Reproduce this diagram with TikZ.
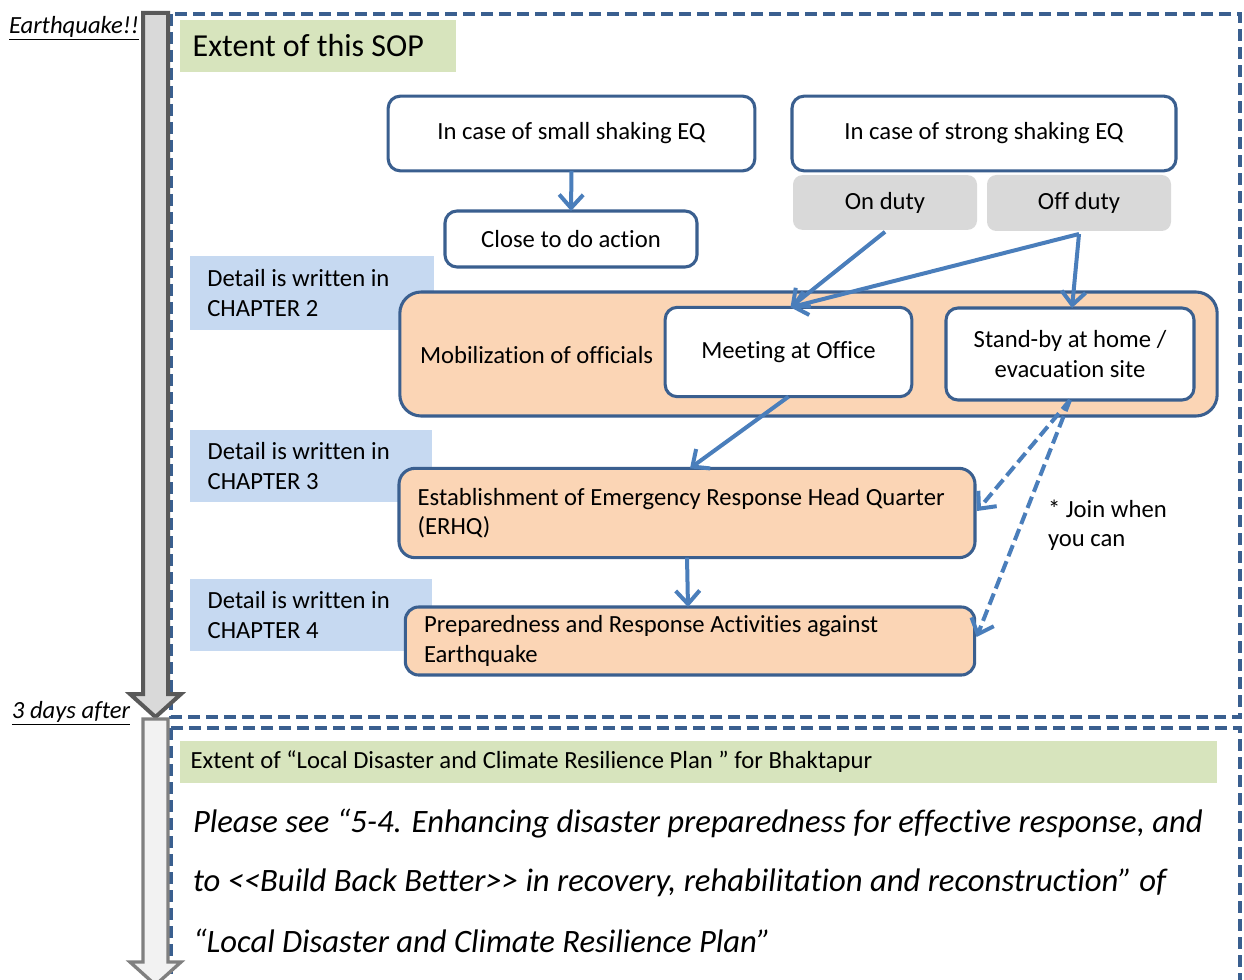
\documentclass[tikz,border=0pt]{standalone}
\usepackage{fontspec}
\setmainfont{Carlito}[Ligatures={TeX,NoCommon}]
\usetikzlibrary{arrows.meta,calc}
\definecolor{frameblue}{RGB}{58,95,143}
\definecolor{arrowblue}{RGB}{74,126,187}
\definecolor{sopgreen}{RGB}{215,228,189}
\definecolor{chblue}{RGB}{198,217,241}
\definecolor{peach}{RGB}{251,213,181}
\definecolor{dutygray}{RGB}{217,217,217}
\definecolor{darkarrow}{RGB}{89,89,89}
\definecolor{lightarrow}{RGB}{128,128,128}
\definecolor{palegray}{RGB}{242,242,242}
\tikzset{
  base/.style={font=\fontsize{18.5}{22}\selectfont, inner sep=0pt, outer sep=0pt},
  whitebox/.style={base, draw=frameblue, line width=2.3pt, fill=white, rounded corners=9pt},
  peachbox/.style={base, draw=frameblue, line width=2.3pt, fill=peach, rounded corners=16pt},
  dutybox/.style={base, fill=dutygray, rounded corners=7pt},
  chbox/.style={base, fill=chblue, align=flush left, text width=160pt, inner xsep=13pt},
  flow/.style={draw=arrowblue, line width=3pt, -{Straight Barb[length=10pt,width=18pt,line width=3pt]}},
  dflow/.style={flow, dash pattern=on 9pt off 4pt},
  dframe/.style={draw=frameblue, line width=2.3pt, dash pattern=on 9pt off 4.5pt},
}
\begin{document}
\begin{tikzpicture}[x=0.75pt,y=-0.75pt]
\useasboundingbox (0,0) rectangle (1244,980);
\fill[white] (0,0) rectangle (1244,980);
% frames
\draw[dframe] (171,14) rectangle (1240,717);
\draw[dframe] (171,728) -- (1240,728) -- (1240,985);
\draw[dframe] (171,728) -- (171,985);
% timeline arrows
\draw[darkarrow, line width=3pt, fill=dutygray, line join=miter]
  (143,13) -- (168,13) -- (168,694) -- (181,694) -- (155.5,717) -- (130,694) -- (143,694) -- cycle;
\draw[lightarrow, line width=2.5pt, fill=palegray, line join=miter]
  (143,719) -- (168,719) -- (168,962) -- (181,962) -- (155.5,985) -- (130,962) -- (143,962) -- cycle;
\node[base, font=\fontsize{18.5}{22}\selectfont\itshape, anchor=center] (eq) at (74,28) {\underline{Earthquake!!}};
\node[base, font=\fontsize{18.5}{22}\selectfont\itshape, anchor=center] (days) at (71,713) {\underline{3 days after}};
% SOP title
\node[base, fill=sopgreen, minimum width=207pt, minimum height=39pt, anchor=west, font=\fontsize{24}{28}\selectfont, align=flush left, text width=188pt, inner xsep=9.5pt] (sop) at (180,46) {Extent of this SOP};
% top boxes
\node[whitebox, minimum width=275pt, minimum height=56pt] (small) at (571.5,133.5) {In case of small shaking EQ};
\node[whitebox, minimum width=288pt, minimum height=56pt] (strong) at (984,133.5) {In case of strong shaking EQ};
\node[dutybox, minimum width=138pt, minimum height=41pt] (onduty) at (885,202.5) {On duty};
\node[dutybox, minimum width=138pt, minimum height=42pt] (offduty) at (1079,203) {Off duty};
\node[whitebox, minimum width=189pt, minimum height=42pt] (close) at (571,239) {Close to do action};
% chapter notes
\node[chbox, minimum height=55pt, text width=157pt] (ch2) at (312,293) {Detail is written in\\CHAPTER 2};
\node[chbox, minimum height=54pt, text width=155pt] (ch3) at (311,466) {Detail is written in\\CHAPTER 3};
\node[chbox, minimum height=54pt, text width=155pt] (ch4) at (311,615) {Detail is written in\\CHAPTER 4};
% mobilization
\node[peachbox, minimum width=613pt, minimum height=93pt] (mob) at (808.5,354) {};
\node[base, anchor=west] (mobtxt) at (420,355) {Mobilization of officials};
\node[whitebox, minimum width=185pt, minimum height=67pt] (meet) at (788.5,352) {Meeting at Office};
\node[whitebox, minimum width=186pt, minimum height=69pt, align=center] (standby) at (1070,354) {Stand-by at home /\\evacuation site};
% ERHQ and preparedness
\node[peachbox, minimum width=432pt, minimum height=67pt, align=flush left, text width=404pt, inner xsep=14pt, rounded corners=12pt] (erhq) at (687,513) {Establishment of Emergency Response Head Quarter\\(ERHQ)};
\node[peachbox, minimum width=427pt, minimum height=51pt, align=flush left, text width=399pt, inner xsep=14pt, rounded corners=10pt] (prep) at (690,641) {Preparedness and Response Activities against\\Earthquake};
\node[base, anchor=north west, align=left] (join) at (1048,500) {* Join when\\you can};
% connectors
\draw[flow] (small.south) -- (close.north);
\draw[flow] ($(onduty.south)+(0,2)$) -- ($(meet.north)+(2,0)$);
\draw[flow] ($(offduty.south)+(0,3)$) -- ($(meet.north)+(2,0)$);
\draw[flow] ($(offduty.south)+(0,3)$) -- ($(standby.north)+(2,0)$);
\draw[flow] (meet.south) -- ($(erhq.north)+(3,0)$);
\draw[flow] (erhq.south) -- ($(prep.north)+(-2,0)$);
\draw[dflow] (standby.south) -- ($(erhq.east)+(2,-2)$);
\draw[dflow] (standby.south) -- ($(prep.east)+(2,-4)$);
% lower section
\node[base, fill=sopgreen, minimum width=778pt, minimum height=32pt, anchor=west, align=flush left, text width=762pt, inner xsep=8pt] (ldcrp) at (180,762) {Extent of “Local Disaster and Climate Resilience Plan ” for Bhaktapur};
\node[base, anchor=west, font=\fontsize{24.5}{29}\selectfont\itshape] (l1) at (193,824) {Please see “5-4. Enhancing disaster preparedness for effective response, and};
\node[base, anchor=west, font=\fontsize{24.5}{29}\selectfont\itshape] (l2) at (193,883) {to <{}<Build Back Better>{}> in recovery, rehabilitation and reconstruction” of};
\node[base, anchor=west, font=\fontsize{24.5}{29}\selectfont\itshape] (l3) at (193,941) {“Local Disaster and Climate Resilience Plan”};
\end{tikzpicture}
\end{document}
